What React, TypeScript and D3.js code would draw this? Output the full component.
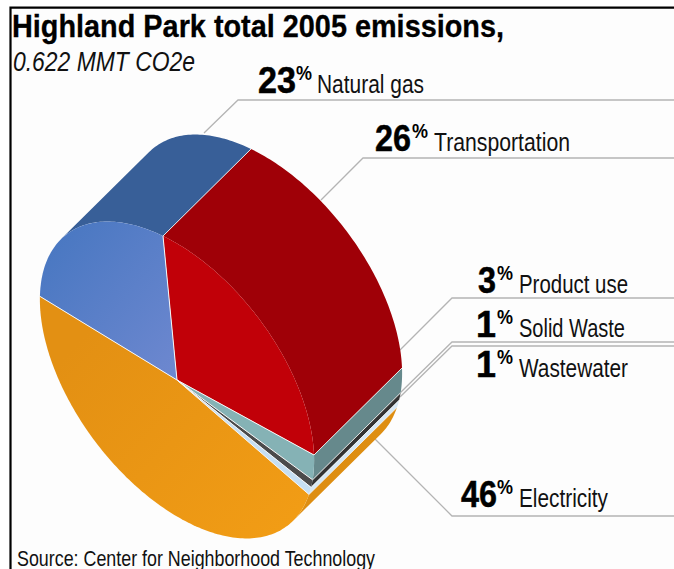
import React from "react";
import * as d3 from "d3";

const categories = ["Transportation", "Product use", "Solid Waste", "Wastewater", "Electricity", "Natural gas"];
const shares = [26, 3, 1, 1, 46, 23];
const faceColors = ["#c10008", "#85b2b5", "#4b4b4b", "#c6dff2", "#ea9514", "#5f82c8"];
const sideColors = ["#9f0007", "#66898c", "#333333", "#d6e8f5", "#de8e12", "#385f98"];
const labelValues = ["23", "26", "3", "1", "1", "46"];
const labelNames = ["Natural gas", "Transportation", "Product use", "Solid Waste", "Wastewater", "Electricity"];

const W = 674, H = 569;
const C: [number, number] = [177, 380];
const A: [number, number] = [-14, -144];
const B: [number, number] = [136.4, 66.1];
const E: [number, number] = [88, -87];

const project = (t: number, e = 0): [number, number] => [
  C[0] + A[0] * Math.cos(t) + B[0] * Math.sin(t) + e * E[0],
  C[1] + A[1] * Math.cos(t) + B[1] * Math.sin(t) + e * E[1],
];
const cross = (u: number[], v: number[]) => u[0] * v[1] - u[1] * v[0];
const tanAngle = Math.atan2(cross(B, E), cross(A, E));
const visStart = tanAngle;
const visEnd = tanAngle + Math.PI;

const pie = d3.pie<number>().sort(null).startAngle(0).endAngle(2 * Math.PI);
const arcs = pie(shares);
const line = d3.line();
const sample = (a0: number, a1: number, e = 0) => {
  const n = Math.max(2, Math.ceil(Math.abs(a1 - a0) / 0.02));
  return d3.range(n + 1).map((i) => project(a0 + ((a1 - a0) * i) / n, e));
};

function sidePath(a0: number, a1: number) {
  const segs: string[] = [];
  for (const off of [0, -2 * Math.PI]) {
    const s = Math.max(a0 + off, visStart);
    const t = Math.min(a1 + off, visEnd);
    if (t > s) segs.push(line([...sample(s, t), ...sample(t, s, 1)])! + "Z");
  }
  return segs.join("");
}

const leaders: [number, number][][] = [
  [[204, 133], [238, 100], [674, 100]],
  [[321, 200], [363, 158], [674, 158]],
  [[400, 350], [452, 298], [674, 298]],
  [[400, 393], [452, 342], [674, 342]],
  [[400, 397], [452, 346], [674, 346]],
  [[373, 437], [452, 516], [674, 516]],
];
// value x, value width, percent x, name x, name width, baseline
const labelLayout: number[][] = [
  [258, 38, 296, 317, 107, 93],
  [375, 36, 412, 434, 136, 151],
  [478, 18, 497, 519, 109, 293],
  [476, 20, 497, 519, 106, 337],
  [476, 20, 497, 519, 109, 377],
  [461, 36, 497, 519, 89, 507],
];

const sans = "'Liberation Sans', Arial, sans-serif";

export default function App() {
  return (
    <svg width={W} height={H} style={{ position: "fixed", left: 0, top: 0, background: "#fff" }}>
      <defs>
        <linearGradient id="g-blue" x1="40" y1="260" x2="170" y2="370" gradientUnits="userSpaceOnUse">
          <stop offset="0" stopColor="#4a78c2" />
          <stop offset="1" stopColor="#6c87cf" />
        </linearGradient>
        <linearGradient id="g-orange" x1="80" y1="340" x2="280" y2="530" gradientUnits="userSpaceOnUse">
          <stop offset="0" stopColor="#e39013" />
          <stop offset="1" stopColor="#f19c15" />
        </linearGradient>
      </defs>
      <rect x={11} y={8} width={W - 11} height={H - 8} fill="#fdfdfd" />
      <path d="M10.5,569V7.7H674" fill="none" stroke="#000" strokeWidth={2.2} />
      <text x={12} y={37} fontFamily={sans} fontWeight={700} fontSize={32} fill="#000" stroke="#000" strokeWidth={0.3} textLength={492} lengthAdjust="spacingAndGlyphs">Highland Park total 2005 emissions,</text>
      <text x={13} y={71} fontFamily={sans} fontStyle="italic" fontSize={27} fill="#111" textLength={182} lengthAdjust="spacingAndGlyphs">0.622 MMT CO2e</text>

      {leaders.map((pts, i) => (
        <path key={i} d={line(pts)!} fill="none" stroke="#b4b4b4" strokeWidth={1.3} />
      ))}

      {arcs.map((d, i) => (
        <path key={categories[i]} d={sidePath(d.startAngle, d.endAngle)} fill={sideColors[i]} />
      ))}
      {arcs.map((d, i) => {
        const [x1, y1] = project(d.endAngle, 0);
        const [x2, y2] = project(d.endAngle, 1);
        return i === 4 ? null : (
          <path key={"e" + i} d={`M${x1},${y1}L${x2},${y2}`} stroke="#f0f0f0" strokeWidth={0.9} fill="none" />
        );
      })}
      {arcs.map((d, i) => {
        const pts = [C, ...sample(d.startAngle, d.endAngle)];
        const fill = i === 5 ? "url(#g-blue)" : i === 4 ? "url(#g-orange)" : faceColors[i];
        return <path key={"f" + i} d={line(pts)! + "Z"} fill={fill} />;
      })}
      {arcs.map((d, i) => (
        <path key={"r" + i} d={line([C, project(d.startAngle)])!} stroke="#f6f6f6" strokeWidth={1} fill="none" />
      ))}

      {labelNames.map((name, i) => {
        const [vx, vw, px, nx, nw, y] = labelLayout[i];
        return (
          <g key={name}>
            <text x={vx} y={y} fontFamily={sans} fontWeight={700} fontSize={37} fill="#000" stroke="#000" strokeWidth={0.5} textLength={vw} lengthAdjust="spacingAndGlyphs">
              {labelValues[i]}
            </text>
            <text x={px} y={y - 13} fontFamily={sans} fontWeight={700} fontSize={21} fill="#000" textLength={16} lengthAdjust="spacingAndGlyphs">%</text>
            <text x={nx} y={y} fontFamily={sans} fontSize={26} fill="#111" textLength={nw} lengthAdjust="spacingAndGlyphs">{name}</text>
          </g>
        );
      })}

      <text x={17} y={566} fontFamily={sans} fontSize={21.5} fill="#111" textLength={358} lengthAdjust="spacingAndGlyphs">Source: Center for Neighborhood Technology</text>
    </svg>
  );
}
